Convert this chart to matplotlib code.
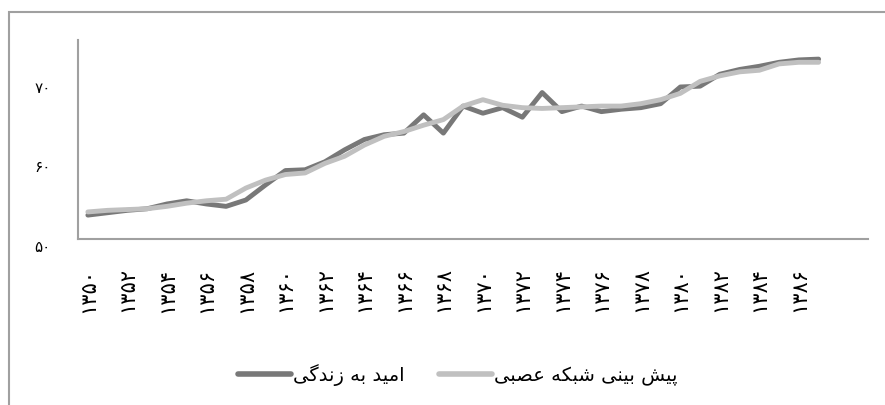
import matplotlib
matplotlib.use('Agg')
import matplotlib.pyplot as plt
from matplotlib.patches import Rectangle
from matplotlib.transforms import ScaledTranslation

# years 1350..1387 (Persian calendar), two empty slots at the end of the axis
years = list(range(1350, 1388))
life_expectancy = [53.0, 53.3, 53.6, 53.8, 54.4, 54.8, 54.4, 54.1, 54.9, 56.8,
                   58.6, 58.7, 59.7, 61.2, 62.5, 63.1, 63.3, 65.6, 63.3, 66.7,
                   65.8, 66.5, 65.3, 68.4, 66.0, 66.7, 66.0, 66.3, 66.5, 67.0,
                   69.1, 69.2, 70.7, 71.3, 71.7, 72.2, 72.5, 72.6]
nn_forecast = [53.4, 53.6, 53.7, 53.8, 54.1, 54.5, 54.8, 55.0, 56.4, 57.4,
               58.1, 58.3, 59.5, 60.4, 61.8, 62.9, 63.5, 64.3, 65.0, 66.7,
               67.5, 66.8, 66.5, 66.4, 66.5, 66.6, 66.7, 66.7, 67.0, 67.5,
               68.3, 69.8, 70.5, 71.0, 71.2, 72.0, 72.2, 72.2]
y_ticks = [50, 60, 70]
label_life = 'امید به زندگی'
label_nn = 'پیش بینی شبکه عصبی'

DIGITS = str.maketrans('0123456789', '۰۱۲۳۴۵۶۷۸۹')

# matplotlib has no arabic shaping, so pick the presentation forms by hand
# (isolated, final, initial, medial)
FORMS = {
    'ا': ('\uFE8D', '\uFE8E', '\uFE8D', '\uFE8E'),
    'د': ('\uFEA9', '\uFEAA', '\uFEA9', '\uFEAA'),
    'ز': ('\uFEAF', '\uFEB0', '\uFEAF', '\uFEB0'),
    'م': ('\uFEE1', '\uFEE2', '\uFEE3', '\uFEE4'),
    'ی': ('\uFBFC', '\uFBFD', '\uFBFE', '\uFBFF'),
    'ب': ('\uFE8F', '\uFE90', '\uFE91', '\uFE92'),
    'ه': ('\uFEE9', '\uFEEA', '\uFEEB', '\uFEEC'),
    'ن': ('\uFEE5', '\uFEE6', '\uFEE7', '\uFEE8'),
    'گ': ('\uFB92', '\uFB93', '\uFB94', '\uFB95'),
    'پ': ('\uFB56', '\uFB57', '\uFB58', '\uFB59'),
    'ش': ('\uFEB5', '\uFEB6', '\uFEB7', '\uFEB8'),
    'ک': ('\uFB8E', '\uFB8F', '\uFB90', '\uFB91'),
    'ع': ('\uFEC9', '\uFECA', '\uFECB', '\uFECC'),
    'ص': ('\uFEB9', '\uFEBA', '\uFEBB', '\uFEBC'),
}
RIGHT_ONLY = set('ادز')


def shape(text):
    words = []
    for word in text.split(' '):
        forms = []
        for k, ch in enumerate(word):
            after_join = k > 0 and word[k - 1] not in RIGHT_ONLY
            before_join = k < len(word) - 1
            iso, fin, ini, med = FORMS[ch]
            if after_join and before_join:
                forms.append(med)
            elif after_join:
                forms.append(fin)
            elif before_join:
                forms.append(ini)
            else:
                forms.append(iso)
        words.append(''.join(reversed(forms)))
    return ' '.join(reversed(words))


plt.rcParams['font.family'] = ['DejaVu Sans']

fig = plt.figure(figsize=(8.85, 4.05), dpi=100)
ax = fig.add_axes([78 / 885, 1 - 239 / 405, 790 / 885, 199 / 405])

x = list(range(len(years)))
ax.plot(x, life_expectancy, color='#787878', linewidth=3.5,
        solid_capstyle='round', label=shape(label_life))
ax.plot(x, nn_forecast, color='#c0c0c0', linewidth=3.5,
        solid_capstyle='round', label=shape(label_nn))

ax.set_xlim(-0.5, 39.5)
ax.set_ylim(50, 75)
ax.set_yticks(y_ticks)
ax.set_yticklabels([str(v).translate(DIGITS) for v in y_ticks], fontsize=11)
ax.set_xticks(x[::2])
ax.set_xticklabels([str(y).translate(DIGITS) for y in years[::2]],
                   rotation=90, fontsize=15)
ax.tick_params(axis='both', length=0)
ax.tick_params(axis='y', pad=19.5)
ax.tick_params(axis='x', pad=20.5)
for lab in ax.get_yticklabels():
    lab.set_transform(lab.get_transform() + ScaledTranslation(0, -0.07, fig.dpi_scale_trans))

for side in ['top', 'right']:
    ax.spines[side].set_visible(False)
for side in ['left', 'bottom']:
    ax.spines[side].set_color('#a0a0a0')
    ax.spines[side].set_linewidth(1.5)

leg = fig.legend(loc='center', bbox_to_anchor=(0.517, 1 - 375 / 405), ncol=2,
                 frameon=False, fontsize=14, handlelength=2.7, handletextpad=0.1,
                 columnspacing=1.8)
for line in leg.get_lines():
    line.set_linewidth(4)

fig.patches.append(Rectangle((9 / 885, -0.05), 1.0, 393 / 405 + 0.05,
                             transform=fig.transFigure, fill=False,
                             edgecolor='#a0a0a0', linewidth=1.5))

fig.savefig('out.png', dpi=100)
